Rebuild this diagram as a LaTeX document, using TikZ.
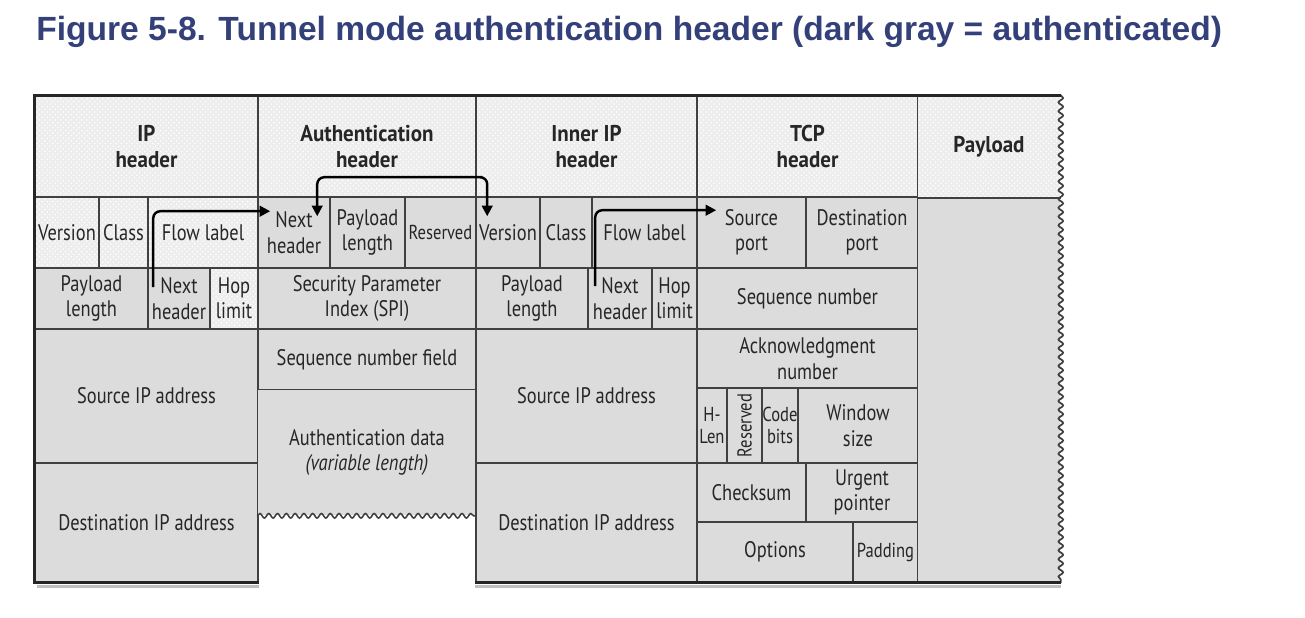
\documentclass[tikz,border=0pt]{standalone}
\usepackage{fontspec}
\usepackage{tikz}
\usetikzlibrary{calc, arrows.meta, fit, patterns, decorations.pathmorphing}
\newfontfamily\cellfont[FakeStretch=0.82]{PT Sans}
\newfontfamily\headfont[FakeStretch=0.92]{PT Sans}
\newfontfamily\titlefont{Liberation Sans}
\definecolor{titleblue}{HTML}{33407A}
\definecolor{lightcell}{HTML}{EDEDED}
\definecolor{authcell}{HTML}{DCDCDC}
\tikzset{
    field/.style={draw=black!75, line width=0.9pt, inner sep=0pt},
    fieldtext/.style={inner sep=0pt, align=center, text=black!85,
        font=\cellfont\fontsize{12.8}{14.5}\selectfont},
    open/.style={preaction={fill=lightcell}, pattern=crosshatch dots, pattern color=white},
    auth/.style={fill=authcell},
    hdr/.style={font=\headfont\bfseries\fontsize{13}{15}\selectfont},
    small/.style={font=\cellfont\fontsize{11.5}{13}\selectfont},
    frame/.style={draw=black!85, line width=1.5pt},
    wave/.style={decorate, decoration={snake, amplitude=1.3pt, segment length=5pt}},
    nxt/.style={line width=1.4pt, rounded corners=4pt, -{Triangle[length=6pt,width=6pt]}},
}
\NewDocumentCommand{\field}{%
    O{auth} % style of the box
    m       % node name
    mm      % opposite corners, in pixels
    m       % text
    O{}     % style of the text
    }{%
    \node[field, #1, fit={(#3) (#4)}] (#2) {};
    \node[fieldtext, #6] (#2-t) at (#2.center) {#5};
}

\begin{document}
\begin{tikzpicture}[x=0.02cm, y=-0.02cm]
    \useasboundingbox (0,0) rectangle (1305,618);
    \node[anchor=base west, inner sep=0pt, text=titleblue,
        font=\titlefont\bfseries\fontsize{19.1}{21}\selectfont] (title) at (36,41)
        {Figure 5-8. Tunnel mode authentication header (dark gray = authenticated)};

    % outer IP header
    \field[open]{iph}{35,96}{258,197}{IP\\header}[hdr]
    \field[open]{ipv}{35,197}{99,268}{Version}
    \field[open]{ipc}{99,197}{148,268}{Class}
    \field[open]{ipf}{148,197}{258,268}{Flow label}
    \field{ipl}{35,268}{148,329}{Payload\\length}
    \field{ipnh}{148,268}{210,329}{Next\\header}
    \field[open]{iphl}{210,268}{258,329}{Hop\\limit}
    \field{ips}{35,329}{258,463}{Source IP address}
    \field{ipd}{35,463}{258,582}{Destination IP address}

    % authentication header
    \field[open]{ahh}{258,96}{476,197}{Authentication\\header}[hdr]
    \field{ahnh}{258,197}{330,268}{Next\\header}
    \field{ahpl}{330,197}{405,268}{Payload\\length}
    \field{ahr}{405,197}{476,268}{Reserved}[small]
    \field{ahspi}{258,268}{476,329}{Security Parameter\\Index (SPI)}
    \field{ahsq}{258,329}{476,390}{Sequence number field}
    \field[auth, draw=none]{ahad}{258,390}{476,515}{Authentication data\\\textit{(variable length)}}
    \draw[black!75, line width=0.9pt, wave] (ahad.south west) -- (ahad.south east);

    % inner IP header
    \field[open]{iih}{476,96}{697,197}{Inner IP\\header}[hdr]
    \field{iv}{476,197}{540,268}{Version}
    \field{ic}{540,197}{592,268}{Class}
    \field{iflw}{592,197}{697,268}{Flow label}
    \field{il}{476,268}{588,329}{Payload\\length}
    \field{inh}{588,268}{652,329}{Next\\header}
    \field{ihl}{652,268}{697,329}{Hop\\limit}
    \field{isrc}{476,329}{697,463}{Source IP address}
    \field{idst}{476,463}{697,582}{Destination IP address}

    % TCP header
    \field[open]{tch}{697,96}{918,197}{TCP\\header}[hdr]
    \field{sp}{697,197}{806,268}{Source\\port}
    \field{dp}{806,197}{918,268}{Destination\\port}
    \field{sq}{697,268}{918,329}{Sequence number}
    \field{ack}{697,329}{918,388}{Acknowledgment\\number}
    \field{hl}{697,388}{727,463}{H-\\Len}[small]
    \field{rsv}{727,388}{762,463}{Reserved}[small, rotate=90]
    \field{cb}{762,388}{798,463}{Code\\bits}[small]
    \field{ws}{798,388}{918,463}{Window\\size}
    \field{cs}{697,463}{806,522}{Checksum}
    \field{up}{806,463}{918,522}{Urgent\\pointer}
    \field{op}{697,522}{853,582}{Options}
    \field{pd}{853,522}{918,582}{Padding}[small]

    % payload
    \field[open, draw=none]{plh}{918,96}{1060,197}{Payload}[hdr]
    \field[auth, draw=none]{plb}{918,197}{1060,582}{}
    \draw[black!75, line width=0.9pt] (plh.south west) -- (plh.south east);
    \draw[black!75, line width=1pt, wave] (plh.north east) -- (plb.south east);

    % frame and its shadow
    \draw[black!25, line width=1.5pt] ($(ipd.south west)+(3,4)$) -- ($(ipd.south east)+(0,4)$);
    \draw[black!25, line width=1.5pt] ($(idst.south west)+(0,4)$) -- ($(plb.south east)+(0,4)$);
    \draw[frame] (plh.north east) -- (iph.north west) -- (ipd.south west) -- (ipd.south east);
    \draw[frame] (idst.south west) -- (plb.south east);

    % next header pointers
    \draw[nxt] ($(ipnh.north west)+(6,20)$) |- ($(ahnh.north west)+(13,15)$);
    \draw[nxt, {Triangle[length=6pt,width=6pt]}-{Triangle[length=6pt,width=6pt]}]
        ($(ahnh.north west)+(60,20)$) |- ($(iv.north west)+(0,-19)$) -| ($(iv.north west)+(12,20)$);
    \draw[nxt] ($(inh.north west)+(8,19)$) |- ($(sp.north west)+(20,14)$);
\end{tikzpicture}
\end{document}
